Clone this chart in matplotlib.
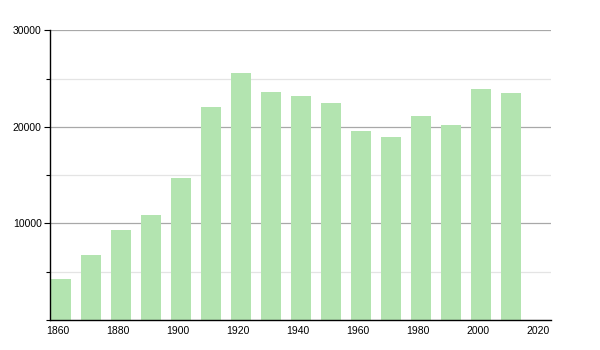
import matplotlib
matplotlib.use("Agg")
import matplotlib.pyplot as plt
from matplotlib.ticker import MultipleLocator

years = [1861, 1871, 1881, 1891, 1901, 1911, 1921, 1931, 1941, 1951, 1961, 1971, 1981, 1991, 2001, 2011]
population = [4250, 6700, 9330, 10880, 14720, 22040, 25600, 23630, 23210, 22490, 19590, 18960, 21140, 20210, 23940, 23520]
x_ticks = [1860, 1880, 1900, 1920, 1940, 1960, 1980, 2000, 2020]
y_ticks = [10000, 20000, 30000]

plt.rcParams['font.family'] = ['Liberation Sans', 'DejaVu Sans']

fig = plt.figure(figsize=(6, 3.5), dpi=100)
ax = fig.add_axes([50/600, 30/350, 501/600, 289.7/350])

ax.bar(years, population, width=6.7, color='#b3e4b0', zorder=2)

ax.set_xlim(1857.33, 2024.3)
ax.set_ylim(0, 30000)
ax.set_xticks(x_ticks)
ax.set_xticklabels([str(t) for t in x_ticks])
ax.set_yticks(y_ticks)
ax.set_yticklabels([str(t) for t in y_ticks])
ax.yaxis.set_minor_locator(MultipleLocator(5000))

ax.grid(axis='y', which='major', color='#a8a8a8', linewidth=0.9, zorder=1)
ax.grid(axis='y', which='minor', color='#e4e4e4', linewidth=0.9, zorder=1)

for s in ['top', 'right']:
    ax.spines[s].set_visible(False)
ax.spines['left'].set_color('black')
ax.spines['bottom'].set_color('black')
ax.spines['left'].set_linewidth(1.0)
ax.spines['bottom'].set_linewidth(1.0)

ax.tick_params(axis='x', length=0, pad=4, labelsize=7.5)
ax.tick_params(axis='y', which='major', length=4, width=0.8, pad=2, labelsize=7.5)
ax.tick_params(axis='y', which='minor', length=3, width=0.8)

fig.savefig('out.png', dpi=100)
